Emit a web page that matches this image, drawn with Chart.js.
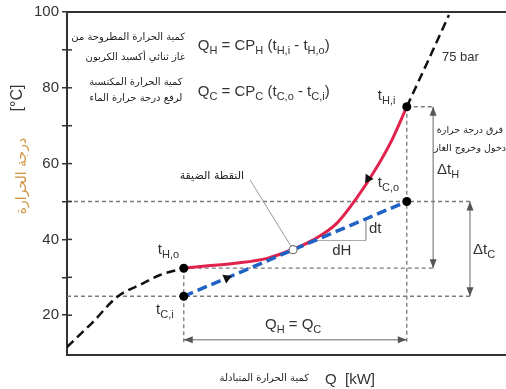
<!DOCTYPE html>
<html>
<head>
<meta charset="utf-8">
<script src="https://cdn.jsdelivr.net/npm/chart.js@4"></script>
<style>
  body { margin: 0; background: #fff; }
  #wrap { width: 506px; height: 389px; position: relative; }
</style>
</head>
<body>
<div id="wrap"><canvas id="myChart"></canvas></div>
<script>
// 75 bar isobar (black dashed), below and above the cooler range
const isoLowQ = [0, 5.9, 11.4, 17.3, 21.2, 26.6];
const isoLowT = [11.6, 18.2, 24.8, 28.4, 30.6, 32.4];
const isoHighQ = [77.4, 82.0, 87.0];
const isoHighT = [75.0, 86.5, 99.2];

// gas side (red), tH,o -> tH,i
const heatQ = [26.6, 31.0, 38.3, 45.6, 51.5, 56.0, 61.5, 66.1, 70.6, 74.0, 77.4];
const heatT = [32.4, 32.9, 33.7, 35.0, 37.4, 39.8, 44.3, 51.1, 59.1, 66.2, 75.0];

// water side (blue), tC,i -> tC,o
const coolQ = [26.6, 77.4];
const coolT = [25.0, 50.0];

// pinch point
const pinchQ = [51.5];
const pinchT = [37.3];

// flow direction arrows on the curves
const arrowQ = [68.6, 36.4];
const arrowT = [56.0, 29.8];

const yTicks = [20, 30, 40, 50, 60, 70, 80, 90, 100];
const yLabels = [20, 40, 60, 80, 100];

// where the helper arrows sit
const xDtH = 83.4, xDtC = 91.8, yQarrow = 13.5, yDropEnd = 12.6;
const dHfrom = 56.5, dHto = 68.1;

const FONT = "'Liberation Sans', Arial, sans-serif";
const AR = "'DejaVu Sans', sans-serif";
const RED = '#e0224c', BLUE = '#1f62c6', GREY = '#7a7a7a', INK = '#333';

const nH = heatQ.length - 1;
const coolAt = q => coolT[0] + (q - coolQ[0]) / (coolQ[1] - coolQ[0]) * (coolT[1] - coolT[0]);
const pts = (qs, ts) => qs.map((q, i) => ({x: q, y: ts[i]}));

function refLine(a, b) {
    return {
        data: [a, b], showLine: true, borderColor: GREY, borderWidth: 1.3,
        borderDash: [4, 3], pointRadius: 0, order: 6
    };
}

const datasets = [
    {data: pts(isoLowQ, isoLowT), showLine: true, borderColor: '#111', borderWidth: 2.5,
        borderDash: [9, 5], pointRadius: 0, cubicInterpolationMode: 'monotone', order: 4},
    {data: pts(isoHighQ, isoHighT), showLine: true, borderColor: '#111', borderWidth: 2.5,
        borderDash: [9, 5], pointRadius: 0, order: 4},
    {data: pts(heatQ, heatT), showLine: true, borderColor: RED, borderWidth: 3,
        pointRadius: 0, cubicInterpolationMode: 'monotone', order: 3},
    {data: pts(coolQ, coolT), showLine: true, borderColor: BLUE, borderWidth: 3.5,
        borderDash: [10, 5], pointRadius: 0, order: 2},
    refLine({x: 0, y: coolT[1]}, {x: xDtC, y: coolT[1]}),
    refLine({x: 0, y: coolT[0]}, {x: xDtC, y: coolT[0]}),
    refLine({x: heatQ[0], y: heatT[0]}, {x: xDtH, y: heatT[0]}),
    refLine({x: heatQ[nH], y: heatT[nH]}, {x: xDtH, y: heatT[nH]}),
    refLine({x: heatQ[0], y: heatT[0]}, {x: heatQ[0], y: yDropEnd}),
    refLine({x: heatQ[nH], y: heatT[nH]}, {x: heatQ[nH], y: yDropEnd}),
    {data: pts(arrowQ, arrowT), pointStyle: 'triangle', pointRadius: 5.5,
        pointRotation: [213.7, 66.9], backgroundColor: '#111', borderColor: '#111', borderWidth: 0, order: 1},
    {data: [{x: heatQ[0], y: heatT[0]}, {x: heatQ[nH], y: heatT[nH]},
            {x: coolQ[0], y: coolT[0]}, {x: coolQ[1], y: coolT[1]}],
        pointRadius: 4.5, backgroundColor: '#000', borderColor: '#000', borderWidth: 0, order: 0},
    {data: pts(pinchQ, pinchT), pointRadius: 4, backgroundColor: '#fff',
        borderColor: '#777', borderWidth: 1.2, order: 0}
];

// in-plot texts (anchored at data coordinates)
const texts = [
    {q: 29.8, t: 91.0, parts: ['Q', '_H', ' = CP', '_H', ' (t', '_H,i', ' - t', '_H,o', ')'], size: 15},
    {q: 29.8, t: 78.9, parts: ['Q', '_C', ' = CP', '_C', ' (t', '_C,o', ' - t', '_C,i', ')'], size: 15},
    {q: 85.4, t: 87.9, parts: ['75 bar'], size: 13},
    {q: 70.8, t: 77.8, parts: ['t', '_H,i'], size: 15},
    {q: 70.8, t: 54.9, parts: ['t', '_C,o'], size: 15},
    {q: 20.7, t: 37.2, parts: ['t', '_H,o'], size: 15},
    {q: 20.3, t: 21.4, parts: ['t', '_C,i'], size: 15},
    {q: 68.8, t: 42.7, parts: ['dt'], size: 15},
    {q: 60.4, t: 36.9, parts: ['dH'], size: 15},
    {q: 45.1, t: 17.4, parts: ['Q', '_H', ' = Q', '_C'], size: 15},
    {q: 84.3, t: 58.3, parts: ['\u0394t', '_H'], size: 15},
    {q: 92.5, t: 37.2, parts: ['\u0394t', '_C'], size: 15}
];
const arabic = [
    {q: 26.9, t: 93.4, s: 'كمية الحرارة المطروحة من', align: 'right', size: 10},
    {q: 26.9, t: 87.9, s: 'غاز ثنائي أكسيد الكربون', align: 'right', size: 10},
    {q: 15.7, t: 81.5, s: 'كمية الحرارة المكتسبة', align: 'center', size: 10},
    {q: 15.7, t: 77.3, s: 'لرفع درجة حرارة الماء', align: 'center', size: 10},
    {q: 33.0, t: 56.7, s: 'النقطة الضيقة', align: 'center', size: 11},
    {q: 91.8, t: 68.6, s: 'فرق درجة حرارة', align: 'center', size: 9.5},
    {q: 91.8, t: 64.1, s: 'دخول وخروج الغاز', align: 'center', size: 9.5}
];

function rich(ctx, x, y, parts, size, color) {
    const seg = parts.map(p => {
        const sub = p.startsWith('_');
        const txt = sub ? p.slice(1) : p;
        const f = (sub ? Math.round(size * 0.72) : size) + 'px ' + FONT;
        ctx.font = f;
        return {txt, sub, f, w: ctx.measureText(txt).width};
    });
    ctx.textAlign = 'left';
    ctx.textBaseline = 'middle';
    ctx.fillStyle = color;
    let cx = x;
    seg.forEach(g => {
        ctx.font = g.f;
        ctx.fillText(g.txt, cx, y + (g.sub ? size * 0.35 : 0));
        cx += g.w;
    });
}

function head(ctx, x, y, ang) {
    ctx.save();
    ctx.translate(x, y);
    ctx.rotate(ang);
    ctx.beginPath();
    ctx.moveTo(0, 0);
    ctx.lineTo(-9, -3.5);
    ctx.lineTo(-9, 3.5);
    ctx.closePath();
    ctx.fill();
    ctx.restore();
}

function arrow2(ctx, x1, y1, x2, y2) {
    ctx.beginPath();
    ctx.moveTo(x1, y1);
    ctx.lineTo(x2, y2);
    ctx.stroke();
    const a = Math.atan2(y2 - y1, x2 - x1);
    head(ctx, x2, y2, a);
    head(ctx, x1, y1, a + Math.PI);
}

const overlay = {
    id: 'overlay',
    beforeDatasetsDraw(chart) {
        const {ctx, scales: {x, y}} = chart;
        const X = v => x.getPixelForValue(v), Y = v => y.getPixelForValue(v);
        ctx.save();
        ctx.strokeStyle = '#666';
        ctx.fillStyle = '#555';
        ctx.lineWidth = 1;
        arrow2(ctx, X(heatQ[0]), Y(yQarrow), X(heatQ[nH]), Y(yQarrow));
        arrow2(ctx, X(xDtH), Y(heatT[nH]), X(xDtH), Y(heatT[0]));
        arrow2(ctx, X(xDtC), Y(coolT[1]), X(xDtC), Y(coolT[0]));
        // dt / dH slope triangle
        ctx.strokeStyle = '#aaa';
        ctx.beginPath();
        ctx.moveTo(X(dHfrom), Y(coolAt(dHfrom)));
        ctx.lineTo(X(dHto), Y(coolAt(dHfrom)));
        ctx.stroke();
        ctx.strokeStyle = '#777';
        ctx.beginPath();
        ctx.moveTo(X(dHto), Y(coolAt(dHfrom)));
        ctx.lineTo(X(dHto), Y(coolAt(dHto)));
        ctx.stroke();
        // leader to pinch point
        ctx.strokeStyle = '#999';
        ctx.beginPath();
        ctx.moveTo(X(41.7), Y(55.7));
        ctx.lineTo(X(pinchQ[0]), Y(pinchT[0]));
        ctx.stroke();
        ctx.restore();
    },
    afterDraw(chart) {
        const {ctx, chartArea: a, scales: {x, y}} = chart;
        const X = v => x.getPixelForValue(v), Y = v => y.getPixelForValue(v);
        ctx.save();
        // top frame line and inner tick marks
        ctx.strokeStyle = INK;
        ctx.lineWidth = 2;
        ctx.beginPath();
        ctx.moveTo(a.left, a.top);
        ctx.lineTo(a.right, a.top);
        ctx.stroke();
        ctx.lineWidth = 1.5;
        yTicks.forEach(v => {
            ctx.beginPath();
            ctx.moveTo(a.left, Y(v));
            ctx.lineTo(a.left + 5, Y(v));
            ctx.stroke();
        });

        texts.forEach(t => rich(ctx, X(t.q), Y(t.t), t.parts, t.size, INK));

        ctx.fillStyle = '#222';
        ctx.textBaseline = 'middle';
        ctx.direction = 'rtl';
        arabic.forEach(t => {
            ctx.font = t.size + 'px ' + AR;
            ctx.textAlign = t.align;
            ctx.fillText(t.s, X(t.q), Y(t.t));
        });

        // axis titles
        ctx.font = '10px ' + AR;
        ctx.textAlign = 'right';
        ctx.fillText('كمية الحرارة المتبادلة', 309, 378);
        ctx.direction = 'ltr';
        rich(ctx, 325, 380, ['Q  [kW]'], 15, INK);

        ctx.save();
        ctx.translate(18, 98);
        ctx.rotate(-Math.PI / 2);
        ctx.textAlign = 'center';
        ctx.font = '16px ' + FONT;
        ctx.fillStyle = INK;
        ctx.fillText('[°C]', 0, 0);
        ctx.restore();

        ctx.save();
        ctx.translate(22, 176);
        ctx.rotate(-Math.PI / 2);
        ctx.textAlign = 'center';
        ctx.direction = 'rtl';
        ctx.font = '14px ' + AR;
        ctx.fillStyle = '#d0923c';
        ctx.fillText('درجة الحرارة', 0, 0);
        ctx.restore();

        ctx.restore();
    }
};

const ctx = document.getElementById('myChart').getContext('2d');
const myChart = new Chart(ctx, {
    type: 'scatter',
    data: {datasets: datasets},
    options: {
        responsive: true,
        maintainAspectRatio: false,
        animation: false,
        layout: {autoPadding: false, padding: {top: 12, right: 0, left: 0, bottom: 0}},
        plugins: {legend: {display: false}, tooltip: {enabled: false}},
        scales: {
            x: {
                type: 'linear', min: 0, max: 100,
                ticks: {display: false},
                grid: {display: false},
                border: {display: true, color: INK, width: 2},
                afterFit: s => { s.height = 34; }
            },
            y: {
                type: 'linear', min: 9.5, max: 100,
                afterBuildTicks: s => { s.ticks = yTicks.map(v => ({value: v})); },
                ticks: {
                    color: INK, padding: 3,
                    font: {family: FONT, size: 15},
                    callback: v => yLabels.includes(v) ? String(v) : ''
                },
                grid: {drawOnChartArea: false, drawTicks: true, tickLength: 5, color: INK, lineWidth: 1.5},
                border: {display: true, color: INK, width: 2},
                afterFit: s => { s.width = 67; }
            }
        }
    },
    plugins: [overlay]
});
</script>
</body>
</html>
